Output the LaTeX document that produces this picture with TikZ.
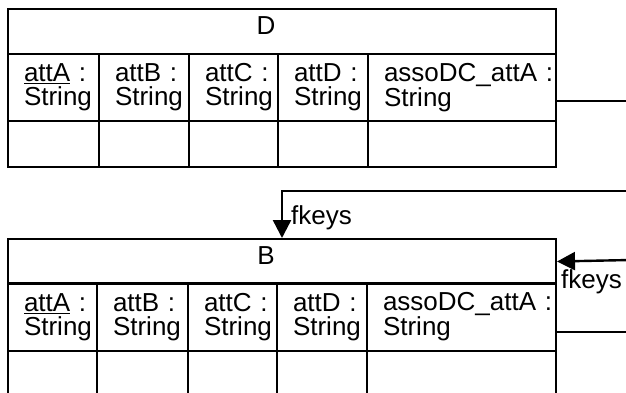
\documentclass[tikz,border=0pt]{standalone}
\usepackage{fontspec}
\setmainfont{Liberation Sans}
\usetikzlibrary{arrows.meta}

\begin{document}
\begin{tikzpicture}[x=1pt,y=-1pt,font=\fontsize{26}{24}\selectfont,
    box/.style={draw,line width=2pt,rectangle,anchor=north west,inner sep=0pt},
    title/.style={box,minimum width=548pt,minimum height=45pt,text depth=12pt},
    att/.style={box,inner xsep=16pt,align=left,minimum height=#1},
    link/.style={line width=2.4pt},
    fk/.style={link,-{Triangle[length=18pt,width=18pt]}}]
    \path[use as bounding box,clip] (0,0) rectangle (626,392);

    % table D
    \node (dT) at (7,8) [title] {D\hspace*{32pt}};
    \node (dA1) at (7,53) [att=67pt,minimum width=91pt,text width=59pt] {\underline{attA}~:\\String};
    \node (dA2) at (98,53) [att=67pt,minimum width=90pt,text width=58pt] {attB~:\\String};
    \node (dA3) at (188,53) [att=67pt,minimum width=89pt,text width=57pt] {attC~:\\String};
    \node (dA4) at (277,53) [att=67pt,minimum width=90pt,text width=58pt] {attD~:\\String};
    \node (dA5) at (367,53) [att=67pt,minimum width=188pt,text width=156pt] {assoDC\_attA~:\\String};
    \foreach \x/\w [count=\i] in {7/91,98/90,188/89,277/90,367/188}
        \node (dE\i) at (\x,120) [box,minimum width=\w,minimum height=46] {};

    % table B
    \node (bT) at (7,238) [title] {B\hspace*{32pt}};
    \node (bA1) at (7,282) [att=68pt,minimum width=89pt,text width=57pt] {\underline{attA}~:\\String};
    \node (bA2) at (96,282) [att=68pt,minimum width=91pt,text width=59pt] {attB~:\\String};
    \node (bA3) at (187,282) [att=68pt,minimum width=89pt,text width=57pt] {attC~:\\String};
    \node (bA4) at (276,282) [att=68pt,minimum width=90pt,text width=58pt] {attD~:\\String};
    \node (bA5) at (366,282) [att=68pt,minimum width=189pt,text width=157pt] {assoDC\_attA~:\\String};
    \foreach \x/\w [count=\i] in {7/89,96/91,187/89,276/90,366/189}
        \node (bE\i) at (\x,350) [box,minimum width=\w,minimum height=70] {};

    % links
    \coordinate (dOut) at (630,101);
    \coordinate (bIn) at (630,191);
    \coordinate (bIn2) at (630,260);
    \coordinate (bOut) at (630,332);
    \draw[link] (dA5.east |- dOut) -- (dOut);
    \draw[fk] (bIn) -| ([xshift=275pt]bT.north west)
        node[pos=0.785,right,inner xsep=8pt] {fkeys};
    \draw[fk] (bIn2) -- (bT.east)
        node[pos=1,below right,inner xsep=3pt,inner ysep=7pt] {fkeys};
    \draw[link] (bA5.east |- bOut) -- (bOut);
\end{tikzpicture}
\end{document}
